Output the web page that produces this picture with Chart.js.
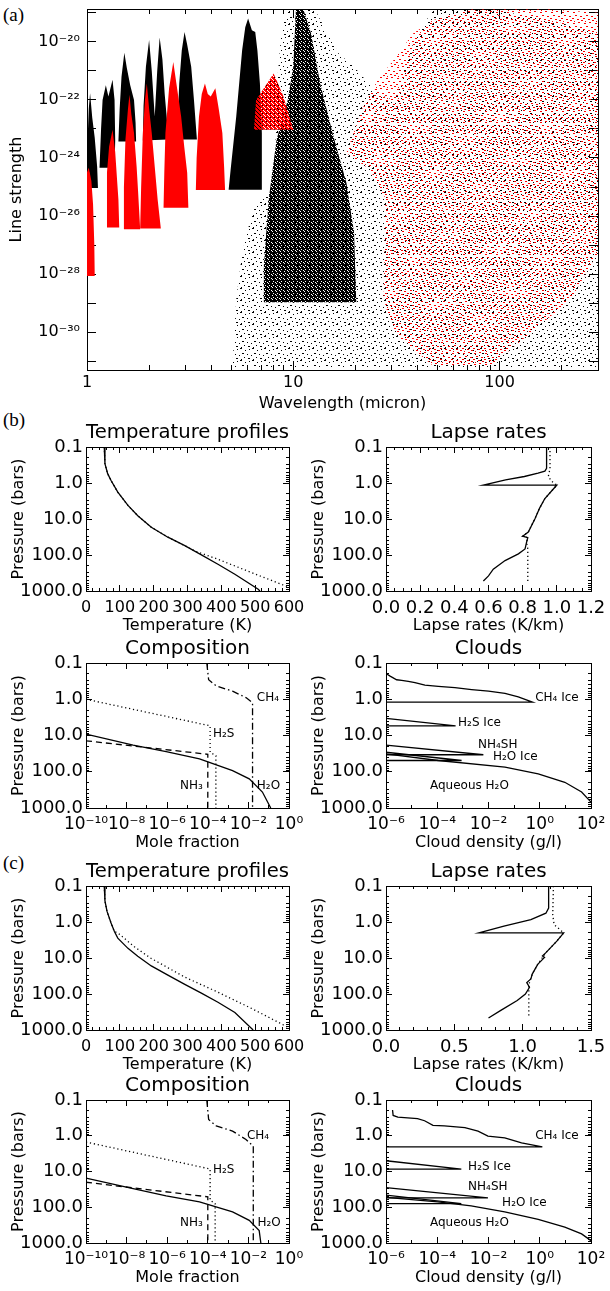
<!DOCTYPE html>
<html><head><meta charset="utf-8">
<script src="https://cdn.jsdelivr.net/npm/chart.js@4.4.1/dist/chart.umd.min.js"></script>
<style>
html,body{margin:0;padding:0;background:#fff;}
body{width:610px;height:1291px;position:relative;overflow:hidden;}
canvas{position:absolute;}
.plabel{position:absolute;font-family:'Liberation Serif','DejaVu Serif',serif;font-size:19px;line-height:19px;color:#000;}
</style></head><body>
<div class="plabel" style="left:3px;top:5px">(a)</div>
<div class="plabel" style="left:3px;top:410px">(b)</div>
<div class="plabel" style="left:3px;top:853px">(c)</div>
<script>
// ================= DATA =================
// (a) line strengths: outlines of the line clouds, [wavelength (micron), strength]
const wavelengthTicks = [1, 10, 100];
const wavelengthTickLabels = ['1', '10', '100'];
const wavelengthMinorTicks = [2,3,4,5,6,7,8,9,20,30,40,50,60,70,80,90,200,300];
const strengthTicks = [1e-31,1e-30,1e-29,1e-28,1e-27,1e-26,1e-25,1e-24,1e-23,1e-22,1e-21,1e-20,1e-19];
const strengthTickLabels = ['','10⁻³⁰','','10⁻²⁸','','10⁻²⁶','','10⁻²⁴','','10⁻²²','','10⁻²⁰',''];

const blackSparseRegion = [[5.07,6.3e-32],[5.29,1.38e-29],[5.65,5.5e-28],[6.31,1.29e-26],[6.89,3.7e-26],[8.21,1.07e-25],[8.21,1e-22],[8.77,2.5e-20],[9.36,1.3e-19],[12.7,1.3e-19],[16.6,4e-21],[19.7,1.38e-21],[25.7,1.6e-22],[30.6,1e-22],[38.1,8.7e-21],[47.4,1.3e-19],[91.6,1.3e-19],[177,5.5e-20],[300,2e-20],[300,6.3e-32]];
const redSparseRegion = [[18.1,1.48e-24],[21.5,4.6e-23],[25.7,5e-22],[30.6,2.3e-21],[38.1,1.95e-20],[47.4,5.5e-20],[73.6,1.3e-19],[177,1.3e-19],[300,1e-19],[300,5.5e-28],[220,1.26e-29],[142,1e-30],[91.6,7.2e-32],[47.4,7.2e-32],[30.6,1e-30],[27.4,1.38e-29],[28.0,4e-26],[23.5,4e-25]];
const blackCoreBand = [[7.2,1.07e-29],[7.2,2e-28],[7.6,3.7e-26],[8.3,4.3e-24],[9.4,1e-22],[10,1.38e-21],[10.3,1.3e-19],[11.2,1.3e-19],[12.2,1.95e-20],[13.5,3.7e-22],[15.5,7.2e-24],[18.1,1.38e-25],[19.7,2.7e-27],[20.2,1.07e-29]];
const blackBand7 = [[4.86,8.1e-26],[4.97,4e-25],[5.29,2.7e-23],[5.65,5.1e-21],[5.85,3.2e-20],[6.04,6.3e-20],[6.3,2.5e-20],[6.54,2.2e-20],[6.7,5e-21],[6.89,3.7e-22],[7.04,7.2e-24],[7.04,8.1e-26]];
const redBand7 = [[6.45,9.3e-24],[6.6,1e-22],[7.2,2.5e-22],[8.03,8.1e-22],[8.5,3.2e-22],[8.96,1.3e-22],[9.5,3.2e-23],[10,9.3e-24]];
const redBand6 = [[3.37,7.9e-26],[3.4,1e-24],[3.49,2.7e-23],[3.6,1.6e-22],[3.73,3.7e-22],[3.85,1.6e-22],[3.98,1.3e-22],[4.19,2.5e-22],[4.35,5e-23],[4.53,7.2e-24],[4.62,5e-25],[4.67,7.9e-26]];
const blackBand5 = [[2.74,4.3e-24],[2.76,3.2e-23],[2.8,3.7e-22],[2.88,5e-21],[2.97,2.2e-20],[3.06,7.9e-21],[3.2,1.38e-21],[3.3,1e-22],[3.41,4.3e-24]];
const redBand5 = [[2.35,1.95e-26],[2.37,3.2e-25],[2.4,7.2e-24],[2.5,2.5e-22],[2.62,2e-21],[2.72,3.2e-22],[2.86,2.7e-23],[2.96,2.5e-24],[3.06,3.1e-25],[3.1,1.95e-26]];
const blackBand4 = [[1.865,4e-24],[1.88,6.3e-23],[1.93,1.38e-21],[2.0,1.15e-20],[2.06,1e-21],[2.13,2.7e-23],[2.19,1e-21],[2.25,1.41e-20],[2.32,2.5e-21],[2.38,1.6e-22],[2.456,1.26e-23],[2.456,4.3e-24]];
const redBand4 = [[1.81,3.7e-27],[1.83,1e-25],[1.865,7.2e-24],[1.91,1e-22],[1.95,3.7e-22],[2.0,5e-23],[2.06,7.2e-24],[2.13,5e-25],[2.2,3.7e-26],[2.28,3.7e-27]];
const blackBand3 = [[1.42,3.7e-24],[1.44,5e-23],[1.47,6.3e-22],[1.517,4.2e-21],[1.56,1.26e-21],[1.62,3.2e-22],[1.69,1e-22],[1.72,1.6e-23],[1.73,3.7e-24]];
const redBand3 = [[1.497,3.5e-27],[1.51,1e-25],[1.536,4.3e-24],[1.58,5e-23],[1.606,1.5e-22],[1.64,3.2e-23],[1.69,7.2e-24],[1.74,5e-25],[1.77,6.3e-26],[1.81,3.5e-27]];
const blackBand2 = [[1.15,4.6e-25],[1.17,1e-23],[1.19,1e-22],[1.234,3.2e-22],[1.27,1.3e-22],[1.33,4.9e-22],[1.36,1e-22],[1.37,4e-24],[1.36,4.6e-25]];
const redBand2 = [[1.245,4e-27],[1.25,3.2e-25],[1.28,2.5e-24],[1.33,9.3e-24],[1.37,1.6e-24],[1.40,1.6e-25],[1.42,3.7e-26],[1.433,4e-27]];
const blackBand1 = [[1.0,3.2e-25],[1.005,3.2e-24],[1.02,5e-23],[1.035,1.7e-22],[1.06,2.5e-23],[1.09,5e-24],[1.12,5e-25],[1.13,9.3e-26],[1.045,9.3e-26],[1.02,4e-25]];
const redBand1 = [[1.0,8.7e-29],[1.0,3.2e-25],[1.02,4.6e-25],[1.05,1.6e-25],[1.07,2.5e-26],[1.085,1e-27],[1.09,8.7e-29]];

// shared pressure axis
const pressureTicks = [0.1, 1, 10, 100, 1000];
const pressureTickLabels = ['0.1', '1.0', '10.0', '100.0', '1000.0'];
const pressureMinorTicks = [0.2,0.3,0.4,0.5,0.6,0.7,0.8,0.9,2,3,4,5,6,7,8,9,20,30,40,50,60,70,80,90,200,300,400,500,600,700,800,900];
const temperatureTicks = [0,100,200,300,400,500,600];
const temperatureTickLabels = ['0','100','200','300','400','500','600'];
const temperatureMinorTicks = [20,40,60,80,120,140,160,180,220,240,260,280,320,340,360,380,420,440,460,480,520,540,560,580];
const lapseTicksB = [0,0.2,0.4,0.6,0.8,1.0,1.2];
const lapseTickLabelsB = ['0.0','0.2','0.4','0.6','0.8','1.0','1.2'];
const lapseMinorTicksB = [0.05,0.1,0.15,0.25,0.3,0.35,0.45,0.5,0.55,0.65,0.7,0.75,0.85,0.9,0.95,1.05,1.1,1.15];
const lapseTicksC = [0,0.5,1.0,1.5];
const lapseTickLabelsC = ['0.0','0.5','1.0','1.5'];
const lapseMinorTicksC = [0.1,0.2,0.3,0.4,0.6,0.7,0.8,0.9,1.1,1.2,1.3,1.4];
const moleTicks = [1e-10,1e-8,1e-6,1e-4,1e-2,1];
const moleTickLabels = ['10⁻¹⁰','10⁻⁸','10⁻⁶','10⁻⁴','10⁻²','10⁰'];
const moleMinorTicks = [1e-9,1e-7,1e-5,1e-3,1e-1];
const cloudTicks = [1e-6,1e-4,1e-2,1,100];
const cloudTickLabels = ['10⁻⁶','10⁻⁴','10⁻²','10⁰','10²'];
const cloudMinorTicks = [1e-5,1e-3,1e-1,10];

// (b) temperature profiles
const tempB_solidT = [54,56,64,74,94,124,153,193,242,292,341,390,440,509,514];
const tempB_solidP = [0.1,0.29,0.55,0.85,1.8,4.2,8.1,17,32,55,99,180,343,898,1000];
const tempB_dotT = [54,56,64,74,94,124,153,193,242,292,321,390,489,598];
const tempB_dotP = [0.1,0.29,0.55,0.85,1.8,4.2,8.1,17,32,55,77,131,308,773];
// (b) lapse rates
const lapseB_solidV = [0.94,0.94,0.93,0.89,0.81,0.70,0.57,1.0,0.93,0.90,0.872,0.833,0.80,0.83,0.823,0.814,0.775,0.697,0.628,0.60,0.57];
const lapseB_solidP = [0.1,0.39,0.47,0.53,0.66,0.82,1.14,1.14,2.7,4.9,9.8,23,30,33,44,68,93,143,247,380,525];
const lapseB_dotV = [0.96,0.96,0.95,0.97,1.0,0.93,0.90,0.872,0.833,0.80,0.83,0.823,0.83,0.83];
const lapseB_dotP = [0.1,0.4,0.66,0.9,1.14,2.7,4.9,9.8,23,30,33,44,68,525];
// (b) composition
const compB_h2oX = [1e-10,2.1e-8,8.9e-7,3.9e-5,1.66e-3,1.1e-2,4.9e-2,0.126];
const compB_h2oP = [9.2,18.4,28,44,93,157,363,1000];
const compB_nh3X = [1e-10,1e-4,1e-4];
const compB_nh3P = [14,33,1000];
const compB_h2sX = [1e-10,1.3e-4,1.3e-4,2.5e-4,2.5e-4];
const compB_h2sP = [1.0,5.4,29,36,1000];
const compB_ch4X = [8.9e-5,1.1e-4,2.6e-4,1.66e-3,7.6e-3,1.6e-2,1.6e-2];
const compB_ch4P = [0.1,0.29,0.43,0.6,0.9,1.25,1000];
// (b) clouds
const cloudB_ch4X = [1e-6,1.45e-6,2.6e-6,4.1e-6,7.4e-6,1.35e-5,3.3e-5,1.1e-4,4.9e-4,2.2e-3,1e-2,4.4e-2,0.145,0.52,1e-6];
const cloudB_ch4P = [0.196,0.23,0.29,0.30,0.32,0.35,0.41,0.44,0.48,0.54,0.6,0.69,0.86,1.2,1.2];
const cloudB_h2sX = [1e-6,5.2e-4,1e-6];
const cloudB_h2sP = [3.35,5.4,5.4];
const cloudB_nh4shX = [1e-6,6.3e-3,1e-6];
const cloudB_nh4shP = [18.4,34,34];
const cloudB_iceX = [1e-6,8.9e-4,1e-6];
const cloudB_iceP = [29,49,49];
const cloudB_aqX = [1e-6,1.1e-4,4.4e-2,0.87,9.5,43,100];
const cloudB_aqP = [32,49,75,115,195,363,690];

// (c) temperature profiles
const tempC_solidT = [54,56,62,74,84,94,124,153,193,242,292,341,390,440,494];
const tempC_solidP = [0.1,0.26,0.5,1.07,1.84,2.8,5.4,8.9,16.6,30,54,95,170,325,1000];
const tempC_dotT = [54,56,62,74,84,94,143,193,292,390,489,598];
const tempC_dotP = [0.1,0.26,0.5,1.07,1.84,2.0,4.9,10.3,34,89,251,850];
// (c) lapse rates
const lapseC_solidV = [1.19,1.19,1.17,1.06,0.863,0.68,1.30,1.25,1.17,1.145,1.16,1.11,1.07,1.06,1.03,1.05,1.02,0.96,0.84,0.75];
const lapseC_solidP = [0.1,0.41,0.57,0.86,1.3,2.0,2.0,3.4,7.1,8.8,9.6,15,28,38,48,65,100,152,285,466];
const lapseC_dotV = [1.225,1.22,1.23,1.30,1.25,1.17,1.11,1.07,1.05,1.045,1.045];
const lapseC_dotP = [0.1,0.63,1.18,2.0,3.4,7.1,15,28,48,65,466];
// (c) composition
const compC_h2oX = [1e-10,2.1e-8,8.9e-7,3.9e-5,1.66e-3,1.1e-2,3.4e-2,4.1e-2];
const compC_h2oP = [15.4,30,48,71,135,233,450,1000];
const compC_nh3X = [1e-10,1e-4,1e-4];
const compC_nh3P = [20,51,1000];
const compC_h2sX = [1e-10,1.3e-4,1.3e-4,2.3e-4,2.3e-4];
const compC_h2sP = [1.5,8.5,63,79,1000];
const compC_ch4X = [8.9e-5,1.1e-4,2.6e-4,1.66e-3,7.6e-3,1.74e-2,1.74e-2];
const compC_ch4P = [0.1,0.35,0.53,0.74,1.27,1.95,1000];
// (c) clouds
const cloudC_ch4X = [1.8e-6,1.9e-6,2.9e-6,5.2e-6,1.7e-5,3.2e-5,6.8e-5,1.9e-4,1.2e-3,3.9e-3,9.5e-3,4.3e-2,0.195,1.26,1e-6];
const cloudC_ch4P = [0.19,0.27,0.30,0.31,0.33,0.38,0.51,0.53,0.59,0.74,1.02,1.14,1.58,2.05,2.05];
const cloudC_h2sX = [1e-6,8.7e-4,1e-6];
const cloudC_h2sP = [5.0,8.6,8.6];
const cloudC_nh4shX = [1e-6,9.5e-3,1e-6];
const cloudC_nh4shP = [28.4,54.5,54.5];
const cloudC_iceX = [1e-6,8.7e-4,1e-6];
const cloudC_iceP = [46,79,79];
const cloudC_aqX = [1e-6,1.05e-4,2.1e-3,4.3e-2,0.87,9.5,43,100];
const cloudC_aqP = [53,70.6,91.6,135,218,360,556,859];

// curve labels [text, x, pressure]
const compB_notes = [['CH₄',0.026,0.91],['H₂S',1.8e-4,9.3],['NH₃',4.3e-6,250],['H₂O',0.026,250]];
const compC_notes = [['CH₄',8.5e-3,1.0],['H₂S',1.8e-4,9.1],['NH₃',4.3e-6,275],['H₂O',0.028,275]];
const cloudB_notes = [['CH₄ Ice',0.66,0.91],['H₂S Ice',6.5e-4,4.4],['NH₄SH',3.9e-3,17.8],['H₂O Ice',0.015,38],['Aqueous H₂O',5.2e-5,250]];
const cloudC_notes = [['CH₄ Ice',0.66,1.0],['H₂S Ice',1.6e-3,7.5],['NH₄SH',1.6e-3,27],['H₂O Ice',0.034,76],['Aqueous H₂O',5.2e-5,275]];

// ================= RENDERING =================
Chart.defaults.font.family = "'DejaVu Sans', sans-serif";
Chart.defaults.color = '#000';

const DOT = [1.2, 2.8], DASH = [6, 4], DASHDOT = [7, 3, 1.5, 3];
const pts = (xs, ys) => xs.map((x, i) => ({x, y: ys[i]}));
const pairPts = arr => arr.map(([x, y]) => ({x, y}));
const lineDs = (data, dash) => ({data, showLine: true, fill: false, borderColor: '#000', backgroundColor: '#000',
  borderWidth: 1.3, borderDash: dash || [], pointRadius: 0, pointHoverRadius: 0, tension: 0});

function notesPlugin(notes, font) {
  return {id: 'notes', afterDatasetsDraw(chart) {
    const ctx = chart.ctx, xs = chart.scales.x, ys = chart.scales.y;
    ctx.save();
    ctx.font = font; ctx.fillStyle = '#000'; ctx.textAlign = 'left'; ctx.textBaseline = 'middle';
    notes.forEach(([t, x, y]) => ctx.fillText(t, xs.getPixelForValue(x), ys.getPixelForValue(y)));
    ctx.restore();
  }};
}

function makePlot(c) {
  const R = c.rect, F = c.frame;
  const cv = document.createElement('canvas');
  cv.width = R.w; cv.height = R.h;
  Object.assign(cv.style, {left: R.x + 'px', top: R.y + 'px', width: R.w + 'px', height: R.h + 'px'});
  document.body.appendChild(cv);
  const ctx = cv.getContext('2d');
  const datasets = c.datasets(ctx);
  const ML = c.majorLen, mL = c.minorLen, tf = c.tickFont, xtf = c.xTickFont || c.tickFont, af = c.axisFont;
  const zeroPad = s => { s.paddingLeft = 0; s.paddingRight = 0; s.paddingTop = 0; s.paddingBottom = 0; };
  const mk = (axisName, spec, pos, vals, len, size, border, ticks, title, weight) => ({
    axis: axisName, position: pos, type: spec.type, min: spec.min, max: spec.max, reverse: !!spec.reverse,
    weight,
    afterBuildTicks: s => { s.ticks = vals.map(v => ({value: v})); },
    afterFit: s => { if (axisName === 'x') s.height = size; else s.width = size; zeroPad(s); },
    grid: {display: true, drawOnChartArea: false, drawTicks: true, tickLength: -len, color: '#000', tickColor: '#000', lineWidth: 1, tickWidth: 1},
    border: {display: border, color: '#000', width: 1},
    ticks: ticks || {display: false},
    title: title || {display: false}
  });
  const xh = R.y + R.h - F.b, yw = F.l - R.x;
  const scales = {};
  scales.x = mk('x', c.x, 'bottom', c.x.major, ML, xh, true, {
    display: true, autoSkip: false, maxRotation: 0, minRotation: 0, color: '#000',
    font: {size: xtf}, padding: c.xLabelOff + ML - xtf * 0.6,
    callback: (v, i) => c.x.labels[i]
  }, {display: true, text: c.xTitle, color: '#000', font: {size: af},
      padding: {top: 0, bottom: (R.y + R.h) - c.xTitleY - af * 0.6}}, 0);
  scales.y = mk('y', c.y, 'left', c.y.major, ML, yw, true, {
    display: true, autoSkip: false, color: '#000', font: {size: tf}, padding: ML + c.yLabelGap,
    callback: (v, i) => c.y.labels[i]
  }, {display: true, text: c.yTitle, color: '#000', font: {size: af},
      padding: {top: c.yTitleX - R.x - af * 0.6, bottom: 0}}, 0);
  scales.xTop = mk('x', c.x, 'top', c.x.major, ML, 0, true, null, null, 0);
  scales.yRight = mk('y', c.y, 'right', c.y.major, ML, 0, true, null, null, 0);
  if (c.x.minor.length) {
    scales.xMin = mk('x', c.x, 'bottom', c.x.minor, mL, 0, false, null, null, -1);
    scales.xMinTop = mk('x', c.x, 'top', c.x.minor, mL, 0, false, null, null, -1);
  }
  if (c.y.minor.length) {
    scales.yMin = mk('y', c.y, 'left', c.y.minor, mL, 0, false, null, null, -1);
    scales.yMinRight = mk('y', c.y, 'right', c.y.minor, mL, 0, false, null, null, -1);
  }
  let titleOpt = {display: false};
  if (c.title) {
    const lh = c.titleFont * 1.2;
    const pt = (c.titleY - R.y) - lh / 2;
    const pb = (F.t - R.y) - pt - lh;
    titleOpt = {display: true, text: c.title, fullSize: false, color: '#000',
      font: {size: c.titleFont, weight: 'normal'}, padding: {top: pt, bottom: pb}};
  }
  return new Chart(ctx, {
    type: 'scatter',
    data: {datasets},
    options: {
      responsive: false, animation: false, devicePixelRatio: 1, events: [],
      layout: {padding: {left: 0, right: R.x + R.w - F.r, top: c.title ? 0 : F.t - R.y, bottom: 0}},
      scales,
      plugins: {legend: {display: false}, tooltip: {enabled: false}, title: titleOpt}
    },
    plugins: [notesPlugin(c.notes || [], '12px "DejaVu Sans"')]
  });
}

function pattern(ctx, w, h, color, cells, base) {
  const t = document.createElement('canvas'); t.width = w; t.height = h;
  const g = t.getContext('2d');
  if (base) { g.fillStyle = base; g.fillRect(0, 0, w, h); }
  cells.forEach(([x, y, ww, hh, col]) => {
    if (col === 'clear') g.clearRect(x, y, ww, hh); else { g.fillStyle = col || color; g.fillRect(x, y, ww, hh); }
  });
  return ctx.createPattern(t, 'repeat');
}

// ----- (a) -----
makePlot({
  rect: {x: 0, y: 0, w: 610, h: 415}, frame: {l: 87, t: 9, r: 598, b: 370},
  majorLen: 9, minorLen: 5, tickFont: 16, axisFont: 16,
  xLabelOff: 13, xTitleY: 404, yTitleX: 17, yLabelGap: 7,
  xTitle: 'Wavelength (micron)', yTitle: 'Line strength',
  x: {type: 'logarithmic', min: 1, max: 300, major: wavelengthTicks, labels: wavelengthTickLabels, minor: wavelengthMinorTicks},
  y: {type: 'logarithmic', min: 5.4e-32, max: 1.35e-19, major: strengthTicks, labels: strengthTickLabels, minor: []},
  datasets: ctx => {
    const blackSparse = pattern(ctx, 12, 12, '#000',
      [[0,0,2,1],[5,2,1,1],[9,1,1,1],[2,5,2,1],[7,6,1,1],[11,7,1,1],[4,9,1,1],[8,10,2,1],[1,11,1,1]]);
    const redSparse = pattern(ctx, 11, 11, '#f00',
      [[1,1,2,1],[6,0,2,1],[3,4,2,1],[8,5,2,1],[0,7,2,1],[5,8,2,1],[9,9,2,1],[2,10,1,1]]);
    const redMedium = pattern(ctx, 4, 4, '#f00', [[1,0,1,1,'clear'],[3,2,1,1,'clear'],[0,3,1,1,'clear'],[2,1,1,1,'#000']], '#f00');
    const blackDense = pattern(ctx, 4, 4, '#000', [[1,1,1,1,'clear'],[3,2,1,1,'clear'],[0,3,1,1,'clear']], '#000');
    const layers = [
      [blackSparseRegion, blackSparse], [redSparseRegion, redSparse], [blackCoreBand, blackDense],
      [blackBand7, '#000'], [redBand7, redMedium],
      [blackBand1, '#000'], [blackBand2, '#000'], [blackBand3, '#000'], [blackBand4, '#000'], [blackBand5, '#000'],
      [redBand1, '#f00'], [redBand2, '#f00'], [redBand3, '#f00'], [redBand4, '#f00'], [redBand5, '#f00'], [redBand6, '#f00']
    ];
    return layers.map(([poly, col], i) => ({
      data: pairPts(poly), showLine: true, fill: 'shape', backgroundColor: col,
      borderColor: 'rgba(0,0,0,0)', borderWidth: 0, pointRadius: 0, pointHoverRadius: 0,
      order: layers.length - i
    }));
  }
});

// ----- (b), (c) sub-panels -----
const pressureAxis = {type: 'logarithmic', min: 0.1, max: 1000, reverse: true, major: pressureTicks, labels: pressureTickLabels, minor: pressureMinorTicks};
const common = {majorLen: 6, minorLen: 3, tickFont: 18, axisFont: 16, titleFont: 20, xLabelOff: 17, yLabelGap: 3, yTitle: 'Pressure (bars)', y: pressureAxis};
function sub(left, top, bottom, extra) {
  const x0 = left ? 0 : 300;
  const F = {l: left ? 86 : 386, r: left ? 289 : 591, t: top, b: bottom};
  return Object.assign({}, common, {
    rect: {x: x0, y: top - 32, w: 310, h: bottom + 46 - (top - 32)}, frame: F,
    titleY: top - 14, xTitleY: bottom + 35, yTitleX: x0 + 19
  }, extra);
}
const rowsB = {t1: 447, b1: 591, t2: 663, b2: 808};
const rowsC = {t1: 886, b1: 1030, t2: 1100, b2: 1243};

function panelSet(rows, d, lapseAxis) {
  makePlot(sub(true, rows.t1, rows.b1, {
    title: 'Temperature profiles', xTitle: 'Temperature (K)', xTickFont: 16,
    x: {type: 'linear', min: 0, max: 600, major: temperatureTicks, labels: temperatureTickLabels, minor: temperatureMinorTicks},
    datasets: () => [lineDs(pts(d.tT, d.tP)), lineDs(pts(d.tdT, d.tdP), DOT)]
  }));
  makePlot(sub(false, rows.t1, rows.b1, {
    title: 'Lapse rates', xTitle: 'Lapse rates (K/km)', x: lapseAxis,
    datasets: () => [lineDs(pts(d.lV, d.lP)), lineDs(pts(d.ldV, d.ldP), DOT)]
  }));
  makePlot(sub(true, rows.t2, rows.b2, {
    title: 'Composition', xTitle: 'Mole fraction', xTickFont: 17,
    x: {type: 'logarithmic', min: 1e-10, max: 1, major: moleTicks, labels: moleTickLabels, minor: moleMinorTicks},
    notes: d.cNotes,
    datasets: () => [lineDs(pts(d.h2oX, d.h2oP)), lineDs(pts(d.nh3X, d.nh3P), DASH),
                     lineDs(pts(d.h2sX, d.h2sP), DOT), lineDs(pts(d.ch4X, d.ch4P), DASHDOT)]
  }));
  makePlot(sub(false, rows.t2, rows.b2, {
    title: 'Clouds', xTitle: 'Cloud density (g/l)', xTickFont: 17,
    x: {type: 'logarithmic', min: 1e-6, max: 100, major: cloudTicks, labels: cloudTickLabels, minor: cloudMinorTicks},
    notes: d.clNotes,
    datasets: () => [lineDs(pts(d.cCh4X, d.cCh4P)), lineDs(pts(d.cH2sX, d.cH2sP)), lineDs(pts(d.cNh4X, d.cNh4P)),
                     lineDs(pts(d.cIceX, d.cIceP)), lineDs(pts(d.cAqX, d.cAqP))]
  }));
}

panelSet(rowsB, {
  tT: tempB_solidT, tP: tempB_solidP, tdT: tempB_dotT, tdP: tempB_dotP,
  lV: lapseB_solidV, lP: lapseB_solidP, ldV: lapseB_dotV, ldP: lapseB_dotP,
  h2oX: compB_h2oX, h2oP: compB_h2oP, nh3X: compB_nh3X, nh3P: compB_nh3P, h2sX: compB_h2sX, h2sP: compB_h2sP, ch4X: compB_ch4X, ch4P: compB_ch4P,
  cCh4X: cloudB_ch4X, cCh4P: cloudB_ch4P, cH2sX: cloudB_h2sX, cH2sP: cloudB_h2sP, cNh4X: cloudB_nh4shX, cNh4P: cloudB_nh4shP,
  cIceX: cloudB_iceX, cIceP: cloudB_iceP, cAqX: cloudB_aqX, cAqP: cloudB_aqP,
  cNotes: compB_notes, clNotes: cloudB_notes
}, {type: 'linear', min: 0, max: 1.2, major: lapseTicksB, labels: lapseTickLabelsB, minor: lapseMinorTicksB});

panelSet(rowsC, {
  tT: tempC_solidT, tP: tempC_solidP, tdT: tempC_dotT, tdP: tempC_dotP,
  lV: lapseC_solidV, lP: lapseC_solidP, ldV: lapseC_dotV, ldP: lapseC_dotP,
  h2oX: compC_h2oX, h2oP: compC_h2oP, nh3X: compC_nh3X, nh3P: compC_nh3P, h2sX: compC_h2sX, h2sP: compC_h2sP, ch4X: compC_ch4X, ch4P: compC_ch4P,
  cCh4X: cloudC_ch4X, cCh4P: cloudC_ch4P, cH2sX: cloudC_h2sX, cH2sP: cloudC_h2sP, cNh4X: cloudC_nh4shX, cNh4P: cloudC_nh4shP,
  cIceX: cloudC_iceX, cIceP: cloudC_iceP, cAqX: cloudC_aqX, cAqP: cloudC_aqP,
  cNotes: compC_notes, clNotes: cloudC_notes
}, {type: 'linear', min: 0, max: 1.5, major: lapseTicksC, labels: lapseTickLabelsC, minor: lapseMinorTicksC});
</script>
</body></html>
